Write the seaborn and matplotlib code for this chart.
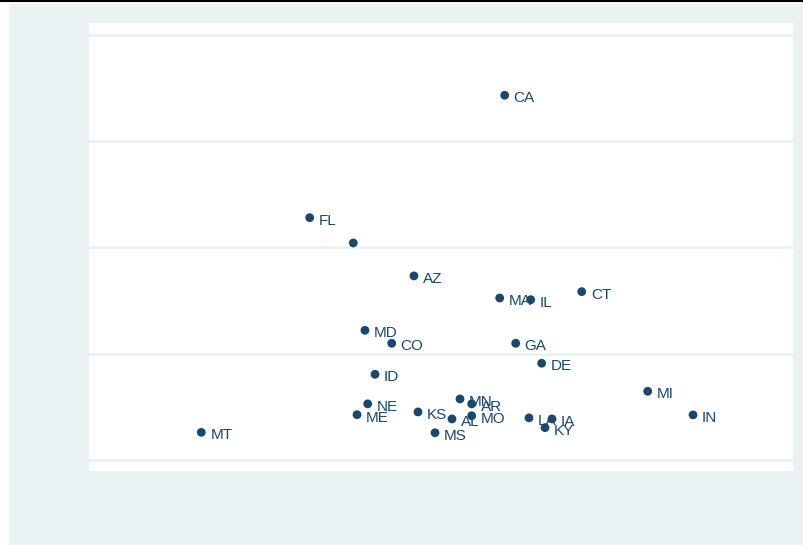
import matplotlib
matplotlib.use("Agg")
from matplotlib import pyplot as plt
from matplotlib.patches import Rectangle
from matplotlib.lines import Line2D
import pandas as pd
import seaborn as sns

# state labels and their values (arbitrary units)
states = ['CA', 'FL', '', 'AZ', 'MA', 'IL', 'CT', 'MD', 'CO', 'GA', 'DE', 'ID', 'MI',
          'NE', 'MN', 'AR', 'KS', 'ME', 'AL', 'MO', 'LA', 'IA', 'KY', 'IN', 'MT', 'MS']
x_vals = [59.05, 31.35, 37.54, 46.16, 58.34, 62.74, 69.99, 39.20, 43.00, 60.61, 64.30, 40.63, 79.36,
          39.59, 52.70, 54.36, 46.73, 38.07, 51.56, 54.36, 62.50, 65.77, 64.77, 85.80, 15.95, 49.15]
y_vals = [17.16, 11.40, 10.21, 8.66, 7.62, 7.54, 7.92, 6.10, 5.49, 5.49, 4.55, 4.03, 3.23,
          2.64, 2.87, 2.64, 2.26, 2.13, 1.93, 2.08, 1.98, 1.93, 1.52, 2.12, 1.30, 1.28]
y_grid = [0, 5, 10, 15, 20]

NAVY = '#1a476f'
BG = '#eaf2f3'

df = pd.DataFrame({'state': states, 'x': x_vals, 'y': y_vals})

sns.set_style('white')
plt.rcParams['font.family'] = ['Liberation Sans', 'DejaVu Sans']

fig = plt.figure(figsize=(8.04, 5.45), dpi=100, facecolor='white')
# light outer panel and the thin black rule on top
fig.patches.append(Rectangle((9 / 804, 0), 1 - 9 / 804, 541 / 545,
                             transform=fig.transFigure, facecolor=BG,
                             edgecolor='none', zorder=-10))
fig.lines.append(Line2D([0, 803 / 804], [1 - 0.8 / 545, 1 - 0.8 / 545],
                        transform=fig.transFigure, color='black', linewidth=1.5,
                        zorder=-5))

ax = fig.add_axes([89 / 804, 74 / 545, 704 / 804, 448 / 545])
ax.set_facecolor('white')

sns.scatterplot(data=df, x='x', y='y', ax=ax, color=NAVY, s=40,
                edgecolor='none', zorder=3, legend=False)
for _, row in df.iterrows():
    if row['state']:
        ax.annotate(row['state'], (row['x'], row['y']), xytext=(6.5, -2.2),
                    textcoords='offset points', va='center', ha='left',
                    fontsize=11, color=NAVY, zorder=4)

ax.set_xlim(0, 100)
ax.set_ylim(-0.52, 20.56)
ax.set_yticks(y_grid)
ax.set_xticks([])
ax.yaxis.grid(True, color=BG, linewidth=2)
ax.set_axisbelow(True)
ax.tick_params(length=0, labelleft=False, labelbottom=False)
ax.set_xlabel('')
ax.set_ylabel('')
for sp in ax.spines.values():
    sp.set_visible(False)

fig.savefig('out.png', dpi=100, facecolor=fig.get_facecolor())
